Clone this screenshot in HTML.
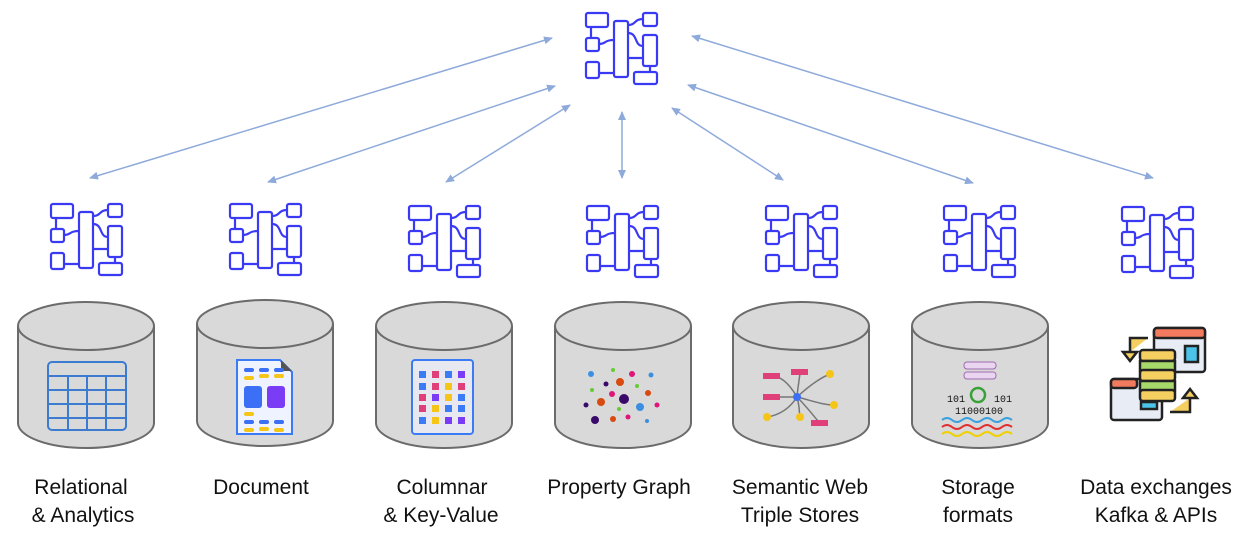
<!DOCTYPE html>
<html><head><meta charset="utf-8"><style>
body{margin:0;background:#fff;}
svg{display:block}
text{font-family:"Liberation Sans",sans-serif;font-size:21px;fill:#111;text-anchor:middle}
</style></head><body>
<svg width="1247" height="543" viewBox="0 0 1247 543" xmlns="http://www.w3.org/2000/svg">
<defs>
<g id="ic" fill="none" stroke="#3a3af5" stroke-width="2.2">
<rect x="0" y="0" width="22" height="14" rx="2"/>
<rect x="0" y="25" width="13" height="13" rx="2"/>
<rect x="0" y="49" width="13" height="16" rx="2"/>
<rect x="28" y="8" width="14" height="56" rx="2"/>
<rect x="57" y="0" width="14" height="13" rx="2"/>
<rect x="57" y="22" width="14" height="31" rx="2"/>
<rect x="48" y="59" width="23" height="12" rx="2"/>
<path d="M5 14V25M13 31C20 31 18 27 28 27M13 60H28M42 12C50 12 48 6 57 6M42 20C52 20 48 33 57 33M42 45H57M64 53V59"/>
</g>
<marker id="ah" markerWidth="10" markerHeight="10" refX="8" refY="5" orient="auto-start-reverse" markerUnits="userSpaceOnUse">
<path d="M0 1L9 5L0 9z" fill="#8eaadb"/>
</marker>
<g id="cyl">
<path d="M-68 326V423A68 25 0 0 0 68 423V326" fill="#d9d9d9" stroke="#6b6b6b" stroke-width="2"/>
<ellipse cx="0" cy="326" rx="68" ry="24" fill="#d9d9d9" stroke="#6b6b6b" stroke-width="2"/>
</g>
</defs>
<g stroke="#8eaadb" stroke-width="1.5" marker-start="url(#ah)" marker-end="url(#ah)">
<line x1="552" y1="38" x2="90" y2="178"/>
<line x1="555" y1="86" x2="268" y2="182"/>
<line x1="570" y1="105" x2="446" y2="182"/>
<line x1="622" y1="112" x2="622" y2="178"/>
<line x1="672" y1="108" x2="783" y2="180"/>
<line x1="688" y1="85" x2="973" y2="183"/>
<line x1="692" y1="36" x2="1153" y2="178"/>
</g>
<use href="#ic" x="586" y="13"/>
<use href="#ic" x="51" y="204"/>
<use href="#ic" x="230" y="204"/>
<use href="#ic" x="409" y="206"/>
<use href="#ic" x="587" y="206"/>
<use href="#ic" x="766" y="206"/>
<use href="#ic" x="944" y="206"/>
<use href="#ic" x="1122" y="207"/>
<use href="#cyl" x="86"/>
<use href="#cyl" x="265" y="-2"/>
<use href="#cyl" x="444"/>
<use href="#cyl" x="623"/>
<use href="#cyl" x="801"/>
<use href="#cyl" x="980"/>
<g stroke="#3b7bd0" stroke-width="2" fill="none">
<rect x="48" y="362" width="78" height="68" rx="4"/>
<path d="M48 376H126M48 390H126M48 404H126M48 418H126M68 376V430M87 376V430M106 376V430"/>
</g>
<path d="M237 360H280L292 372V434H237z" fill="#eef3ff" stroke="#3b7bf5" stroke-width="2"/>
<path d="M281 360L292 371H281z" fill="#555"/>
<g fill="#3b6ff5"><rect x="244" y="368" width="10" height="4" rx="2"/><rect x="259" y="368" width="10" height="4" rx="2"/><rect x="274" y="368" width="10" height="4" rx="2"/><rect x="244" y="420" width="10" height="4" rx="2"/><rect x="259" y="420" width="10" height="4" rx="2"/><rect x="274" y="420" width="10" height="4" rx="2"/>
<rect x="244" y="386" width="18" height="22" rx="3"/></g>
<rect x="267" y="386" width="18" height="22" rx="3" fill="#7a3cf5"/>
<g fill="#f5c518"><rect x="244" y="376" width="10" height="4" rx="2"/><rect x="259" y="374" width="10" height="4" rx="2"/><rect x="274" y="374" width="10" height="4" rx="2"/><rect x="244" y="412" width="10" height="4" rx="2"/><rect x="259" y="427" width="10" height="4" rx="2"/><rect x="244" y="428" width="10" height="4" rx="2"/><rect x="274" y="428" width="10" height="4" rx="2"/></g>
<rect x="412" y="360" width="61" height="74" rx="3" fill="#e8e8f0" stroke="#3b7bf5" stroke-width="2"/>
<g>
<rect x="419" y="371" width="7" height="7" fill="#3b7bf5"/><rect x="432" y="371" width="7" height="7" fill="#e0407a"/><rect x="445" y="371" width="7" height="7" fill="#3b7bf5"/><rect x="458" y="371" width="7" height="7" fill="#7a3cf5"/>
<rect x="419" y="383" width="7" height="7" fill="#3b7bf5"/><rect x="432" y="383" width="7" height="7" fill="#e0407a"/><rect x="445" y="383" width="7" height="7" fill="#f5c518"/><rect x="458" y="383" width="7" height="7" fill="#e0407a"/>
<rect x="419" y="394" width="7" height="7" fill="#e0407a"/><rect x="432" y="394" width="7" height="7" fill="#7a3cf5"/><rect x="445" y="394" width="7" height="7" fill="#f5c518"/><rect x="458" y="394" width="7" height="7" fill="#3b7bf5"/>
<rect x="419" y="405" width="7" height="7" fill="#e0407a"/><rect x="432" y="405" width="7" height="7" fill="#f5c518"/><rect x="445" y="405" width="7" height="7" fill="#3b7bf5"/><rect x="458" y="405" width="7" height="7" fill="#3b7bf5"/>
<rect x="419" y="417" width="7" height="7" fill="#3b7bf5"/><rect x="432" y="417" width="7" height="7" fill="#f5c518"/><rect x="445" y="417" width="7" height="7" fill="#7a3cf5"/><rect x="458" y="417" width="7" height="7" fill="#7a3cf5"/>
</g>
<g>
<circle cx="591" cy="374" r="3" fill="#3a8fe0"/><circle cx="613" cy="370" r="2" fill="#6c3"/><circle cx="632" cy="374" r="3" fill="#e0157a"/><circle cx="651" cy="375" r="2.5" fill="#3a8fe0"/>
<circle cx="606" cy="384" r="2.5" fill="#3a0a6a"/><circle cx="620" cy="382" r="4" fill="#d84a10"/><circle cx="637" cy="386" r="2" fill="#6c3"/><circle cx="592" cy="390" r="2" fill="#6c3"/>
<circle cx="612" cy="394" r="3" fill="#e0157a"/><circle cx="648" cy="393" r="3" fill="#d84a10"/><circle cx="601" cy="402" r="4" fill="#d84a10"/><circle cx="624" cy="399" r="5" fill="#3a0a6a"/>
<circle cx="586" cy="405" r="2.5" fill="#3a0a6a"/><circle cx="640" cy="407" r="4" fill="#3a8fe0"/><circle cx="657" cy="405" r="2.5" fill="#e0157a"/><circle cx="619" cy="409" r="2" fill="#6c3"/>
<circle cx="595" cy="420" r="4" fill="#3a0a6a"/><circle cx="613" cy="419" r="3" fill="#d84a10"/><circle cx="628" cy="417" r="2.5" fill="#e0157a"/><circle cx="647" cy="421" r="2" fill="#3a8fe0"/>
</g>
<g stroke="#777" stroke-width="1.5" fill="none">
<path d="M797 397C790 385 782 376 772 376M797 397C798 385 800 376 800 372M797 397C810 385 820 378 830 374M797 397H772M797 397C790 408 780 415 767 417M797 397C800 408 799 413 800 417M797 397C810 400 822 405 834 405M797 397C808 408 815 418 819 422"/>
</g>
<g fill="#e0407a"><rect x="763" y="373" width="17" height="6"/><rect x="791" y="369" width="17" height="6"/><rect x="763" y="394" width="17" height="6"/><rect x="811" y="420" width="17" height="6"/></g>
<g fill="#f5c518"><circle cx="830" cy="374" r="4"/><circle cx="834" cy="405" r="4"/><circle cx="767" cy="417" r="4"/><circle cx="800" cy="417" r="4"/></g>
<circle cx="797" cy="397" r="4" fill="#3b6ff5"/>
<rect x="964" y="362" width="32" height="7" rx="3" fill="#e9d5f0" stroke="#a06ab0"/>
<rect x="964" y="372" width="32" height="7" rx="3" fill="#e9d5f0" stroke="#a06ab0"/>
<circle cx="978" cy="395" r="7" fill="none" stroke="#3aa03a" stroke-width="2.5"/>
<text x="956" y="402" style="font-size:10px;font-family:'Liberation Mono',monospace">101</text>
<text x="1003" y="402" style="font-size:10px;font-family:'Liberation Mono',monospace">101</text>
<text x="979" y="414" style="font-size:10px;font-family:'Liberation Mono',monospace">11000100</text>
<path d="M942 420q5-4 10 0t10 0t10 0t10 0t10 0t10 0t10 0" fill="none" stroke="#3aa0e0" stroke-width="2"/>
<path d="M942 427q5-4 10 0t10 0t10 0t10 0t10 0t10 0t10 0" fill="none" stroke="#e03030" stroke-width="2"/>
<path d="M942 434q5-4 10 0t10 0t10 0t10 0t10 0t10 0t10 0" fill="none" stroke="#f0d000" stroke-width="2"/>
<g stroke="#222" stroke-width="2.5">
<rect x="1154" y="328" width="51" height="44" rx="3" fill="#e8ecf5"/>
<rect x="1154" y="328" width="51" height="10" rx="3" fill="#f27a5e"/>
<rect x="1185" y="346" width="13" height="16" fill="#4cc3e8"/>
<rect x="1111" y="379" width="51" height="41" rx="3" fill="#e8ecf5"/>
<rect x="1111" y="379" width="26" height="9" rx="3" fill="#f27a5e"/>
<rect x="1141" y="402" width="16" height="7" fill="#4cc3e8"/>
<rect x="1140" y="350" width="35" height="11" rx="3" fill="#f5d060"/>
<rect x="1140" y="361" width="35" height="10" fill="#a6d96a"/>
<rect x="1140" y="370" width="35" height="11" rx="3" fill="#f5d060"/>
<rect x="1140" y="381" width="35" height="10" fill="#a6d96a"/>
<rect x="1140" y="390" width="35" height="11" rx="3" fill="#f5d060"/>
<path d="M1148 338H1130V352M1123 352H1137L1130 361z" fill="#f5d060"/>
<path d="M1170 412H1190V398M1183 398H1197L1190 389z" fill="#f5d060"/>
</g>
<text x="81" y="494">Relational</text><text x="83" y="522">&amp; Analytics</text>
<text x="261" y="494">Document</text>
<text x="442" y="494">Columnar</text><text x="441" y="522">&amp; Key-Value</text>
<text x="619" y="494">Property Graph</text>
<text x="800" y="494">Semantic  Web</text><text x="800" y="522">Triple Stores</text>
<text x="978" y="494">Storage</text><text x="978" y="522">formats</text>
<text x="1156" y="494">Data exchanges</text><text x="1156" y="522">Kafka &amp; APIs</text>
</svg>
</body></html>
